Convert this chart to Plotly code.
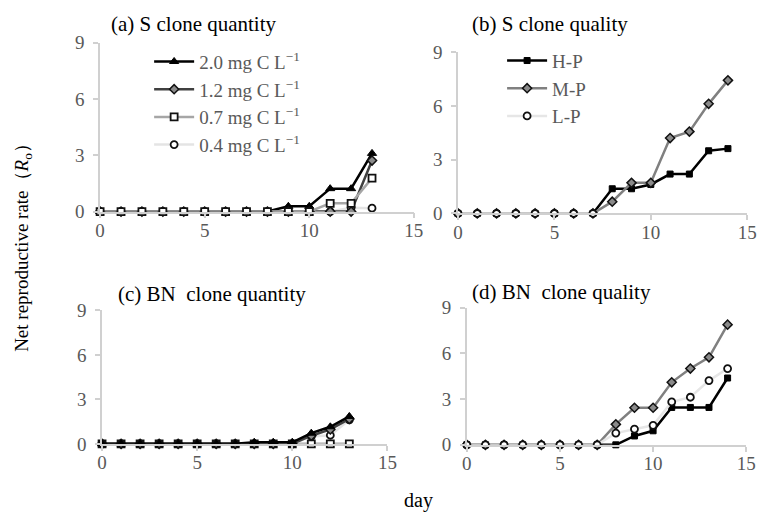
import plotly.graph_objects as go

# ---------------- data ----------------
days_a = list(range(0, 14))
a_20 = [0, 0, 0, 0, 0, 0, 0, 0, 0, 0.28, 0.28, 1.22, 1.22, 3.1]
a_12 = [0, 0, 0, 0, 0, 0, 0, 0, 0, 0, 0, 0, 0, 2.72]
a_07 = [0, 0, 0, 0, 0, 0, 0, 0, 0, 0, 0, 0.44, 0.44, 1.78]
a_04 = [0, 0, 0, 0, 0, 0, 0, 0, 0, 0, 0, 0, 0.2, 0.18]

days_b = list(range(0, 15))
b_hp = [0, 0, 0, 0, 0, 0, 0, 0, 1.38, 1.38, 1.62, 2.2, 2.2, 3.5, 3.62]
b_mp = [0, 0, 0, 0, 0, 0, 0, 0, 0.66, 1.71, 1.71, 4.21, 4.57, 6.12, 7.43]
b_lp = [0, 0, 0, 0, 0, 0, 0, 0, None, None, None, None, None, None, None]

days_c = list(range(0, 14))
c_20 = [0, 0, 0, 0, 0, 0, 0, 0, 0.1, 0.1, 0.1, 0.72, 1.15, 1.85]
c_12 = [0, 0, 0, 0, 0, 0, 0, 0, 0, 0, 0, 0.55, 0.97, 1.68]
c_07 = [0, 0, 0, 0, 0, 0, 0, 0, 0, 0, 0, 0, 0, 0]
c_04 = [0, 0, 0, 0, 0, 0, 0, 0, 0, 0, 0, 0.5, 0.58, 1.62]

days_d = list(range(0, 15))
d_hp = [0, 0, 0, 0, 0, 0, 0, 0, 0, 0.58, 0.92, 2.45, 2.45, 2.45, 4.38]
d_mp = [0, 0, 0, 0, 0, 0, 0, 0, 1.34, 2.43, 2.43, 4.1, 5.0, 5.74, 7.88]
d_lp = [0, 0, 0, 0, 0, 0, 0, 0, 0.77, 1.03, 1.28, 2.81, 3.12, 4.21, 5.0]

quantity_names = ["2.0 mg C L<sup>−1</sup>", "1.2 mg C L<sup>−1</sup>",
                  "0.7 mg C L<sup>−1</sup>", "0.4 mg C L<sup>−1</sup>"]
quality_names = ["H-P", "M-P", "L-P"]
panel_titles = ["(a) S clone quantity", "(b) S clone quality",
                "(c) BN\u00a0 clone quantity", "(d) BN\u00a0 clone quality"]
x_ticks = [0, 5, 10, 15]
y_ticks = [0, 3, 6, 9]

# ---------------- styles ----------------
SERIF = "Liberation Serif"
GRAY_TXT = "#595959"
AX = "#d0d0d0"

sty = {
    "2.0": dict(line=dict(color="#000000", width=2.5),
                marker=dict(symbol="triangle-up", size=8, color="#000000",
                            line=dict(color="#000000", width=1))),
    "1.2": dict(line=dict(color="#404040", width=2.5),
                marker=dict(symbol="diamond", size=7, color="#8a8a8a",
                            line=dict(color="#111111", width=1.5))),
    "0.7": dict(line=dict(color="#a6a6a6", width=2.5),
                marker=dict(symbol="square", size=7, color="#ffffff",
                            line=dict(color="#111111", width=1.8))),
    "0.4": dict(line=dict(color="#e4e4e4", width=2.5),
                marker=dict(symbol="circle", size=7, color="#ffffff",
                            line=dict(color="#111111", width=1.8))),
    "H-P": dict(line=dict(color="#000000", width=2.5),
                marker=dict(symbol="square", size=6, color="#000000",
                            line=dict(color="#000000", width=1))),
    "M-P": dict(line=dict(color="#808080", width=2.5),
                marker=dict(symbol="diamond", size=7, color="#8a8a8a",
                            line=dict(color="#111111", width=1.5))),
    "L-P": dict(line=dict(color="#e6e6e6", width=2.5),
                marker=dict(symbol="circle", size=7, color="#ffffff",
                            line=dict(color="#111111", width=1.8))),
}

fig = go.Figure()

def add(x, y, key, name, xa, ya, legend=None, show=False, rank=None):
    s = sty[key]
    fig.add_trace(go.Scatter(
        x=x, y=y, mode="lines+markers", name=name,
        line=s["line"], marker=s["marker"], xaxis=xa, yaxis=ya,
        cliponaxis=False, showlegend=show, legend=legend,
        legendrank=rank if rank is not None else 1000, connectgaps=False))

# panel a (legend)
add(days_a, a_04, "0.4", quantity_names[3], "x", "y", "legend", True, 4)
add(days_a, a_20, "2.0", quantity_names[0], "x", "y", "legend", True, 1)
add(days_a, a_12, "1.2", quantity_names[1], "x", "y", "legend", True, 2)
add(days_a, a_07, "0.7", quantity_names[2], "x", "y", "legend", True, 3)

# panel b (legend2)
add(days_b, b_hp, "H-P", quality_names[0], "x2", "y2", "legend2", True, 1)
add(days_b, b_mp, "M-P", quality_names[1], "x2", "y2", "legend2", True, 2)
add(days_b, b_lp, "L-P", quality_names[2], "x2", "y2", "legend2", True, 3)

# panel c
add(days_c, c_07, "0.7", quantity_names[2], "x3", "y3")
add(days_c, c_04, "0.4", quantity_names[3], "x3", "y3")
add(days_c, c_12, "1.2", quantity_names[1], "x3", "y3")
add(days_c, c_20, "2.0", quantity_names[0], "x3", "y3")

# panel d
add(days_d, d_hp, "H-P", quality_names[0], "x4", "y4")
add(days_d, d_mp, "M-P", quality_names[1], "x4", "y4")
add(days_d, d_lp, "L-P", quality_names[2], "x4", "y4")

W, H = 768, 523
def px(v): return v / W
def py(v): return 1 - v / H

panels = {
    "": dict(x0=97, x1=417, y0=210, y9=34),
    "2": dict(x0=462, x1=757, y0=212, y9=44),
    "3": dict(x0=99, x1=390, y0=452, y9=313),
    "4": dict(x0=471, x1=756, y0=453, y9=310),
}

lay = {}
for k, p in panels.items():
    xa = "xaxis" + k
    ya = "yaxis" + k
    lay[xa] = dict(domain=[px(p["x0"]), px(p["x1"])], range=[0, 15],
                   tickvals=x_ticks, showgrid=False, zeroline=False,
                   showline=True, linecolor=AX, linewidth=1.5,
                   ticks="outside", tickcolor=AX, ticklen=5, tickwidth=1.5,
                   ticklabelstandoff=-4,
                   tickfont=dict(family=SERIF, size=19, color=GRAY_TXT),
                   anchor="y" + k, fixedrange=True)
    lay[ya] = dict(domain=[py(p["y0"]), py(p["y9"])], range=[0, 9],
                   tickvals=y_ticks, showgrid=False, zeroline=False,
                   showline=True, linecolor=AX, linewidth=1.5,
                   ticks="outside", tickcolor=AX, ticklen=5, tickwidth=1.5,
                   ticklabelstandoff=5,
                   tickfont=dict(family=SERIF, size=19, color=GRAY_TXT),
                   anchor="x" + k, fixedrange=True)

annotations = [
    dict(text=panel_titles[0], x=px(106), y=py(15)),
    dict(text=panel_titles[1], x=px(474), y=py(15)),
    dict(text=panel_titles[2], x=px(113), y=py(296)),
    dict(text=panel_titles[3], x=px(474), y=py(294)),
]
anns = []
for a in annotations:
    anns.append(dict(text=a["text"], x=a["x"], y=a["y"], xref="paper", yref="paper",
                     xanchor="left", yanchor="middle", showarrow=False,
                     font=dict(family=SERIF, size=21, color="#000000")))
anns.append(dict(text="Net reproductive rate\uff08<i>R</i><sub>o</sub>\uff09",
                 x=px(19), y=py(243), xref="paper", yref="paper", textangle=-90,
                 xanchor="center", yanchor="middle", showarrow=False,
                 font=dict(family=SERIF, size=19, color="#000000")))
anns.append(dict(text="day", x=px(422), y=py(511), xref="paper", yref="paper",
                 xanchor="center", yanchor="middle", showarrow=False,
                 font=dict(family=SERIF, size=20, color="#000000")))

fig.update_layout(
    width=W, height=H, margin=dict(l=0, r=0, t=0, b=0),
    paper_bgcolor="white", plot_bgcolor="white",
    annotations=anns,
    legend=dict(x=px(147), y=py(34), xanchor="left", yanchor="top",
                bgcolor="rgba(0,0,0,0)", borderwidth=0, tracegroupgap=0,
                font=dict(family=SERIF, size=19, color=GRAY_TXT), itemwidth=40),
    legend2=dict(x=px(507), y=py(33), xanchor="left", yanchor="top",
                 bgcolor="rgba(0,0,0,0)", borderwidth=0,
                 font=dict(family=SERIF, size=19, color=GRAY_TXT), itemwidth=40),
    **lay,
)

fig.write_html("out.html")
